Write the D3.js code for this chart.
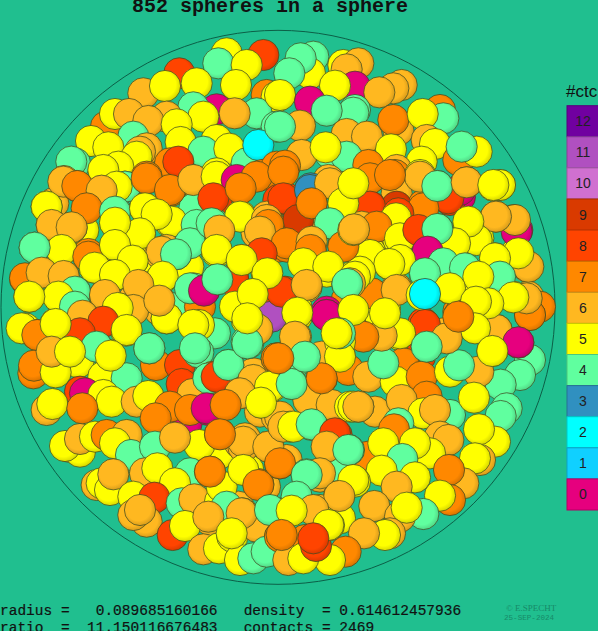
<!DOCTYPE html>
<html><head><meta charset="utf-8">
<script src="https://cdn.jsdelivr.net/npm/d3@7"></script>
<style>html,body{margin:0;padding:0;background:#20bf8f;overflow:hidden}svg{display:block}</style>
</head><body><svg id="c" width="598" height="631"></svg>
<script>
const title = "852 spheres in a sphere";
const statsLine1 = "radius =   0.089685160166   density  = 0.614612457936";
const statsLine2 = "ratio  =  11.150116676483   contacts = 2469";
const legendLabel = "#ctc";
const contactLevels = [12,11,10,9,8,7,6,5,4,3,2,1,0];
const levelColors = ["#7000a0","#b050c0","#d070d0","#d93a00","#ff4400","#ff8800","#ffb820","#ffff00","#60ff9f","#3090c0","#00ffff","#10d0ff","#e6007e"];
// sphere centres [x, y, contacts]; data units are local to each region of the projection
const topLeft = [[790,75,8],[680,70,5],[655,100,4],[538,130,8],[740,105,5],[590,160,5],[430,190,6],[495,168,5],[650,238,0],[708,165,5],[800,195,7],[830,200,5],[770,250,4],[704,250,6],[580,232,4],[830,290,4],[318,290,7],[345,252,5],[500,260,6],[610,260,5],[387,252,6],[445,273,6],[530,283,5],[400,320,4],[273,333,5],[440,355,6],[420,365,6],[325,352,5],[410,380,5],[542,336,5],[650,330,5],[610,365,4],[688,356,5],[740,400,4],[775,345,2],[225,400,4],[214,395,4],[355,410,5],[310,420,5],[375,470,4],[510,400,7],[535,395,8],[440,440,7],[650,430,5],[715,470,0],[787,435,7],[830,410,7],[582,455,6],[512,483,7],[650,510,8],[722,473,7],[160,520,6],[192,453,6],[230,468,7],[340,480,5],[305,483,6],[263,530,7],[140,530,5],[345,540,4],[510,575,5],[435,535,5],[470,553,5],[583,535,4],[722,558,5],[835,510,8],[770,610,6],[800,560,6],[810,585,7],[640,580,4],[657,603,6],[155,584,6],[250,600,5],[215,593,6],[420,613,5],[345,578,5],[570,625,4],[185,660,5],[104,653,4],[265,672,7],[345,650,5],[430,690,5],[398,692,5],[505,660,6],[490,665,6],[480,670,6],[565,710,5],[528,673,4],[650,665,5],[780,680,8],[726,690,5],[835,650,7],[800,730,5],[75,747,7],[127,728,6],[191,738,6],[345,735,5],[284,713,5],[485,745,5],[415,765,6],[700,750,8],[580,775,4],[612,782,0],[652,748,4],[175,800,5],[88,800,5],[225,785,4],[315,795,6],[230,835,4],[250,860,6],[400,810,6],[355,835,5],[478,810,6],[710,830,5],[760,795,5],[830,790,8],[520,835,4],[600,830,7]];
const topRight = [[100,80,4],[90,130,5],[62,85,4],[28,130,4],[0,195,5],[190,105,5],[235,100,6],[200,118,6],[225,170,0],[165,167,5],[90,215,0],[365,165,6],[340,175,6],[298,187,6],[225,240,4],[220,248,4],[140,242,4],[355,300,6],[340,270,7],[480,240,7],[490,265,4],[428,252,5],[440,330,6],[465,342,5],[60,287,6],[0,290,4],[200,312,6],[261,320,6],[150,370,4],[200,380,4],[65,375,6],[137,352,5],[535,390,7],[590,365,5],[545,350,4],[333,358,5],[265,405,7],[425,395,5],[350,420,6],[345,435,7],[15,407,7],[145,450,6],[92,475,3],[660,465,5],[640,467,5],[350,490,6],[195,520,5],[220,463,5],[20,505,8],[272,530,8],[430,525,7],[540,500,0],[510,510,8],[472,468,4],[560,457,6],[350,530,9],[348,565,5],[62,560,9],[95,518,7],[150,580,4],[295,600,7],[228,595,5],[222,598,6],[355,630,5],[712,600,0],[702,570,6],[648,560,6],[595,625,5],[525,640,5],[410,600,8],[567,577,5],[443,662,0],[472,597,4],[0,640,7],[20,650,7],[95,610,6],[92,660,7],[190,645,7],[270,665,5],[355,690,5],[327,702,5],[743,710,6],[710,668,5],[645,685,5],[140,725,5],[218,740,5],[202,762,4],[490,705,4],[555,716,4],[655,735,4],[434,730,4],[15,785,8],[80,770,6],[200,810,7],[270,800,7],[350,775,6],[590,755,5],[508,775,5],[435,792,2],[745,800,6],[700,800,5],[625,818,5],[780,830,7],[50,835,5],[140,845,0],[315,835,5],[535,845,7]];
const bottomLeft = [[240,50,8],[305,30,8],[75,55,5],[112,75,7],[167,40,5],[250,18,6],[355,5,5],[378,62,5],[478,0,6],[500,25,5],[645,70,4],[597,45,5],[775,50,6],[740,30,5],[150,125,6],[290,110,4],[210,125,5],[235,157,5],[330,135,5],[100,190,7],[102,167,7],[167,187,5],[468,165,7],[448,115,4],[540,165,8],[595,127,4],[740,95,4],[760,190,6],[640,200,7],[655,205,4],[685,165,4],[830,145,7],[310,200,5],[380,205,4],[545,222,8],[578,252,6],[815,230,5],[240,245,8],[255,250,0],[310,255,5],[335,275,5],[140,300,6],[157,282,5],[247,295,7],[410,275,6],[445,258,5],[560,340,0],[510,290,7],[467,325,7],[570,300,7],[625,300,0],[678,280,7],[718,250,6],[780,305,6],[784,278,5],[830,320,6],[205,410,6],[240,425,5],[195,408,5],[240,387,6],[285,380,5],[320,375,7],[380,375,6],[345,400,5],[393,435,4],[465,410,4],[660,430,5],[598,405,5],[525,383,6],[720,400,6],[735,385,6],[660,372,7],[805,410,6],[435,490,6],[472,475,5],[290,525,6],[305,520,5],[330,540,5],[340,493,6],[570,490,4],[630,485,7],[745,480,5],[795,530,6],[775,522,7],[525,520,5],[400,560,5],[463,563,8],[545,580,4],[583,568,6],[660,575,5],[440,635,6],[400,615,6],[420,600,6],[630,630,6],[690,590,4],[715,590,6],[728,610,6],[835,610,4],[518,675,8],[555,648,5],[610,718,6],[657,715,5],[697,680,5],[770,650,6],[840,680,7],[720,750,5],[760,745,4],[800,725,4]];
const bottomRight = [[140,15,0],[50,20,5],[48,80,6],[210,70,4],[185,70,5],[360,75,5],[270,60,7],[307,70,6],[300,15,5],[180,140,5],[430,40,8],[490,70,6],[580,50,5],[537,15,7],[650,60,6],[750,15,7],[750,150,4],[715,98,0],[637,123,5],[720,195,4],[662,224,4],[420,140,8],[440,110,4],[0,145,7],[55,150,4],[125,140,6],[205,180,7],[370,160,7],[265,200,6],[347,215,5],[310,160,4],[425,200,7],[595,185,6],[510,185,5],[537,166,4],[37,222,4],[125,207,7],[440,260,7],[85,270,6],[155,285,6],[285,305,6],[210,290,5],[235,290,6],[365,270,6],[430,310,5],[510,315,4],[465,300,6],[582,263,5],[680,295,4],[662,318,4],[0,320,6],[30,350,5],[95,345,4],[355,340,4],[342,358,7],[645,395,5],[597,358,5],[170,375,8],[150,410,6],[265,440,7],[207,420,4],[480,380,6],[505,390,6],[450,430,5],[310,400,5],[405,400,5],[600,450,6],[585,445,5],[0,460,7],[20,450,6],[367,447,4],[305,482,5],[120,500,6],[80,493,4],[405,502,5],[550,520,6],[507,480,7],[225,515,5],[177,490,4],[177,558,6],[350,530,6],[510,570,7],[480,557,5],[50,565,4],[35,600,5],[120,600,6],[283,588,6],[430,612,4],[360,620,6],[380,593,5],[180,625,5],[147,646,5],[0,680,7],[330,670,6],[315,675,5],[252,670,6],[197,725,7],[75,690,7],[25,750,6],[150,750,5],[70,745,5],[108,708,8]];
const midLeft = [[190,35,6],[232,48,7],[375,50,4],[350,50,5],[305,62,6],[440,25,7],[510,60,7],[580,30,6],[140,110,5],[260,115,7],[345,125,4],[155,165,6],[215,172,6],[515,155,5],[435,115,5],[470,133,5],[420,190,5],[345,158,5],[590,165,4],[185,240,5],[104,233,4],[265,260,7],[345,225,5],[500,240,6],[485,245,6],[570,220,4],[528,253,4],[398,272,5],[284,293,5],[75,325,7],[125,308,6],[191,318,6],[345,315,5],[488,320,5],[415,345,6],[225,365,4],[570,355,4],[175,380,5],[88,380,5],[225,410,4],[315,375,6],[248,437,6],[400,420,6],[500,445,5],[478,392,6],[353,414,5],[580,465,5],[310,455,8],[240,490,8],[380,480,5],[65,475,5],[112,495,7],[167,462,5],[290,530,4],[448,535,4],[332,557,5],[155,545,6],[210,545,5],[585,535,4]];
const midRight = [[180,15,5],[180,20,6],[30,25,7],[90,15,7],[300,60,0],[265,85,8],[190,115,7],[232,48,4],[320,37,6],[420,45,5],[400,45,5],[30,110,8],[115,130,8],[108,145,5],[5,170,6],[50,170,7],[120,205,5],[175,180,8],[470,185,0],[465,150,6],[408,140,6],[350,210,5],[325,155,5],[285,220,5],[232,177,4],[203,245,0],[30,255,5],[120,270,5],[88,282,5],[505,290,6],[475,250,5],[405,265,5],[250,280,4],[420,320,4],[315,295,4],[195,310,4],[35,370,7],[110,360,6],[0,305,5],[355,320,5],[270,355,5],[185,375,5],[195,372,2],[510,435,7],[500,385,6],[460,382,5],[410,480,6],[385,400,5],[348,395,5],[195,465,8],[120,490,5],[65,497,6],[75,430,5],[345,475,5],[260,505,6],[295,440,7],[475,517,0],[397,543,5],[10,500,7],[200,530,4]];
const centreLower = [[85,115,4],[110,110,8],[205,10,4],[360,50,4],[290,55,7],[480,5,5],[480,50,5],[145,75,4],[220,120,6],[270,140,5],[335,132,4],[425,115,7],[80,205,0],[180,160,6],[137,195,7],[243,188,5],[190,320,6],[190,305,6],[120,283,7],[265,320,6],[310,260,6],[340,260,5],[395,253,4],[300,370,7],[465,280,8],[440,320,6],[505,330,4],[520,200,5],[535,200,6],[125,440,5],[90,395,7],[190,390,5],[235,435,7],[420,400,6],[380,405,4],[520,420,5],[478,468,6],[140,500,4],[85,530,6],[185,520,6],[270,510,4],[350,470,4],[400,510,6],[335,512,5],[445,555,5],[155,580,5],[305,585,7],[400,595,8]];
const centreUpper = [[110,20,5],[170,30,0],[230,20,7],[310,5,7],[100,85,8],[310,85,8],[390,60,3],[450,40,6],[490,100,5],[520,40,5],[182,55,7],[355,150,9],[395,100,7],[450,160,4],[180,140,5],[260,150,6],[265,165,7],[95,160,4],[118,182,6],[240,185,6],[320,220,7],[395,215,6],[392,240,7],[490,230,7],[520,180,5],[522,178,6],[110,240,5],[245,250,8],[160,330,8],[185,270,5],[72,362,0],[112,328,4],[370,280,5],[445,290,5],[525,320,5],[510,340,6],[502,342,4],[275,440,11],[305,365,8],[262,310,5],[380,345,6],[165,410,5],[218,372,5],[232,478,6],[440,435,0],[520,420,5],[352,428,5],[202,520,4],[202,445,5],[345,500,6],[480,490,4],[470,490,5],[375,560,4],[295,565,7]];
const regions = [[topLeft,0,0],[topRight,840,0],[bottomLeft,0,840],[bottomRight,840,840],[midLeft,0,420],[midRight,1080,420],[centreLower,540,930],[centreUpper,540,420]];

const svg = d3.select("#c");
const x = d3.scaleLinear().domain([0,1680]).range([0,560]);
const y = d3.scaleLinear().domain([0,1680]).range([30,590]);
const color = d3.scaleOrdinal().domain(contactLevels).range(levelColors);
const defs = svg.append("defs");
contactLevels.forEach(l=>{
  const g = defs.append("radialGradient").attr("id","g"+l).attr("cx","45%").attr("cy","45%").attr("r","55%");
  g.append("stop").attr("offset","0%").attr("stop-color",color(l));
  g.append("stop").attr("offset","72%").attr("stop-color",color(l));
  g.append("stop").attr("offset","100%").attr("stop-color",d3.color(color(l)).darker(0.45));
});
svg.append("rect").attr("width",598).attr("height",631).attr("fill","#20bf8f");
svg.append("circle").attr("cx",x(834)).attr("cy",y(832)).attr("r",277).attr("fill","none").attr("stroke","#0c5f47").attr("stroke-width",1);
const spheres = regions.flatMap(([list,dx,dy])=>list.map(d=>({x:d[0]+dx,y:d[1]+dy,c:d[2]})));
svg.append("g").selectAll("circle").data(spheres).join("circle")
  .attr("cx",d=>x(d.x)).attr("cy",d=>y(d.y)).attr("r",15.6)
  .attr("fill",d=>`url(#g${d.c})`).attr("stroke","#3f4a20").attr("stroke-opacity",0.8).attr("stroke-width",0.9);

const mono = "'Liberation Mono',monospace";
svg.append("text").attr("x",132).attr("y",12).attr("font-family",mono).attr("font-weight","bold").attr("font-size",20).attr("fill","#111").text(title);
[[statsLine1,615],[statsLine2,632]].forEach(([t,b])=>{
  svg.append("text").attr("x",0).attr("y",b).attr("font-family",mono).attr("font-size",14.5).attr("fill","#111").attr("stroke","#111").attr("stroke-width",0.2).style("white-space","pre").text(t);
});
const credit = "#178a68";
svg.append("text").attr("x",506).attr("y",611).attr("font-family","'Liberation Serif',serif").attr("font-size",9).attr("fill",credit).text("© E.SPECHT");
svg.append("text").attr("x",504).attr("y",620).attr("font-family",mono).attr("font-size",7.6).attr("fill",credit).text("25-SEP-2024");

const band = d3.scaleBand().domain(contactLevels).range([105.7,510]);
const leg = svg.append("g");
leg.selectAll("rect").data(contactLevels).join("rect")
  .attr("x",567).attr("y",d=>band(d)).attr("width",40).attr("height",band.bandwidth())
  .attr("fill",d=>color(d)).attr("stroke",d=>d3.color(color(d)).darker(0.7)).attr("stroke-width",1);
leg.selectAll("text").data(contactLevels).join("text")
  .attr("x",583).attr("y",d=>band(d)+band.bandwidth()/2+5).attr("text-anchor","middle")
  .attr("font-family","'Liberation Sans',sans-serif").attr("font-size",14).attr("fill","#222").text(d=>d);
svg.append("text").attr("x",566).attr("y",97).attr("font-family","'Liberation Sans',sans-serif").attr("font-size",17).attr("fill","#111").text(legendLabel);
</script></body></html>
